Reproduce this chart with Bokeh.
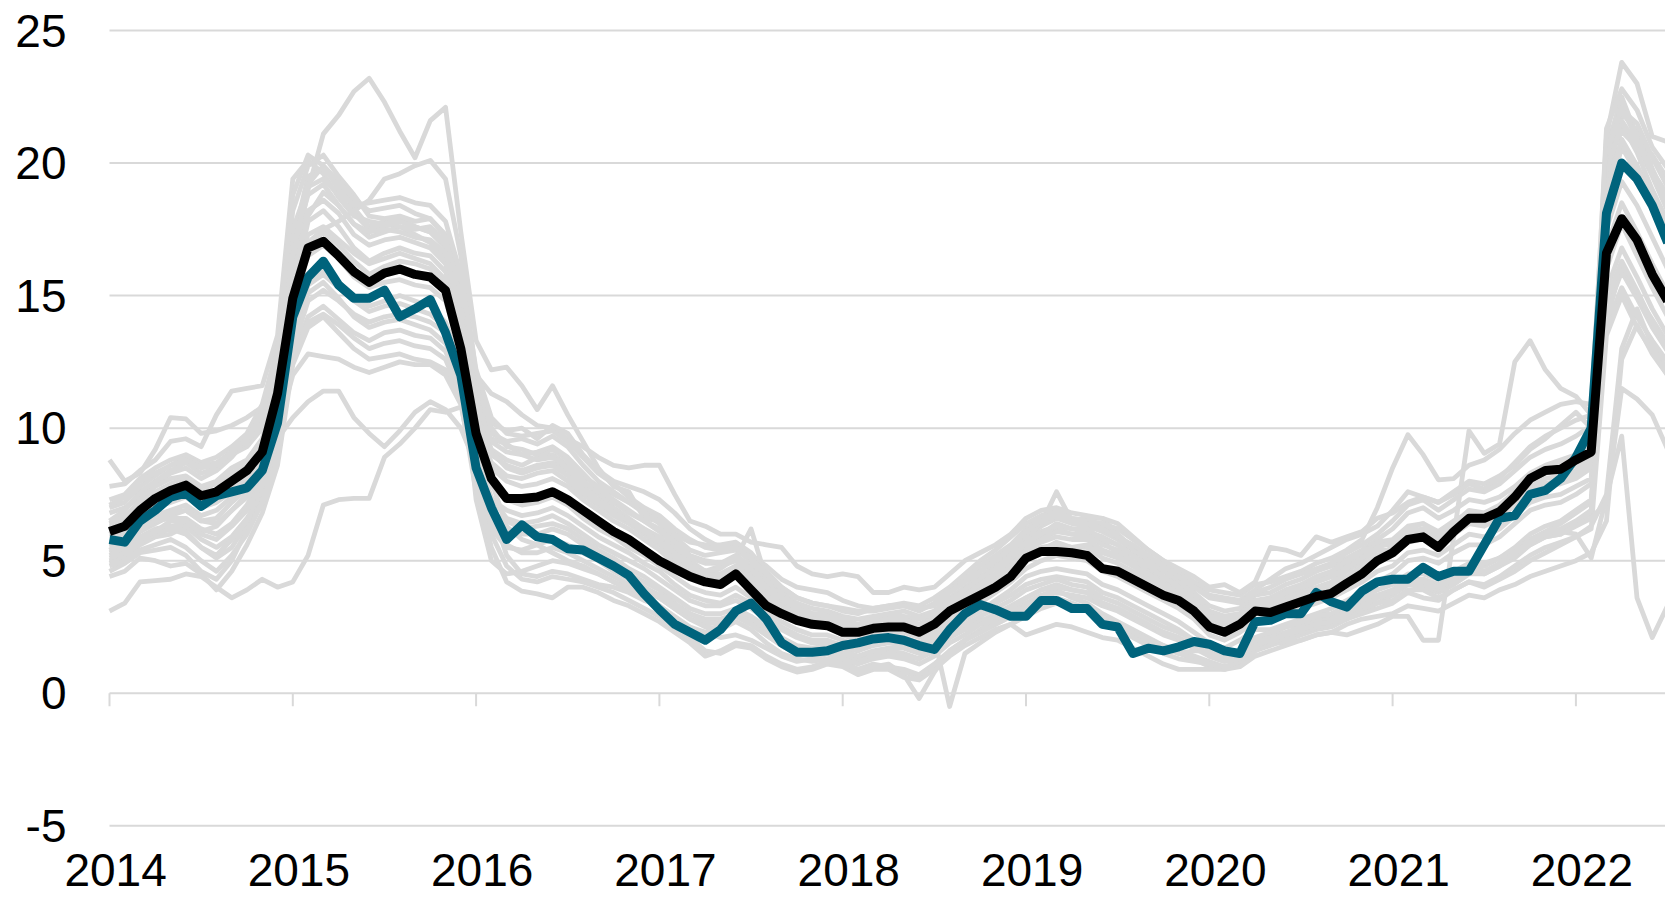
from bokeh.plotting import figure
from bokeh.models import Range1d
from bokeh.core.properties import value
from bokeh.embed import file_html
from bokeh.resources import INLINE

# ---------------- data ----------------
start_year = 2014
n_months = 103  # Jan 2014 .. Jul 2022
months = [start_year + i / 12 for i in range(n_months)]

year_ticks = [2014, 2015, 2016, 2017, 2018, 2019, 2020, 2021, 2022]
year_labels = ["2014", "2015", "2016", "2017", "2018", "2019", "2020", "2021", "2022"]
y_ticks = [-5, 0, 5, 10, 15, 20, 25]
y_labels = ["-5", "0", "5", "10", "15", "20", "25"]

black = [6.1, 6.3, 6.9, 7.35, 7.65, 7.85, 7.45, 7.6, 8.0, 8.4, 9.1, 11.3,
         14.9, 16.8, 17.05, 16.5, 15.9, 15.5, 15.85, 16.0, 15.8, 15.7, 15.2, 13.0,
         9.8, 8.1, 7.35, 7.35, 7.4, 7.6, 7.3, 6.9, 6.5, 6.1, 5.8, 5.4,
         5.0, 4.7, 4.4, 4.2, 4.1, 4.5, 3.9, 3.3, 3.0, 2.75, 2.6, 2.55,
         2.3, 2.3, 2.45, 2.5, 2.5, 2.3, 2.6, 3.1, 3.4, 3.7, 4.0, 4.4,
         5.1, 5.35, 5.35, 5.3, 5.2, 4.7, 4.6, 4.3, 4.0, 3.7, 3.5, 3.1,
         2.5, 2.3, 2.6, 3.1, 3.05, 3.25, 3.45, 3.65, 3.77, 4.15, 4.5, 5.0,
         5.3, 5.8, 5.9, 5.5, 6.1, 6.6, 6.6, 6.85, 7.4, 8.1, 8.4, 8.45,
         8.8, 9.1, 16.6, 17.9, 17.1, 15.8, 14.8]

teal = [5.8, 5.7, 6.5, 6.9, 7.4, 7.55, 7.05, 7.45, 7.6, 7.75, 8.4, 10.2,
        14.2, 15.7, 16.3, 15.4, 14.9, 14.9, 15.2, 14.2, 14.5, 14.85, 13.6, 12.0,
        8.5, 7.0, 5.8, 6.35, 5.9, 5.8, 5.45, 5.4, 5.1, 4.8, 4.45, 3.75,
        3.15, 2.6, 2.3, 2.0, 2.4, 3.1, 3.4, 2.8, 1.9, 1.55, 1.55, 1.6,
        1.8, 1.9, 2.05, 2.1, 2.0, 1.8, 1.65, 2.4, 3.0, 3.35, 3.15, 2.9,
        2.9, 3.5, 3.5, 3.2, 3.2, 2.6, 2.5, 1.5, 1.7, 1.6, 1.75, 1.95,
        1.85, 1.6, 1.5, 2.7, 2.75, 3.0, 3.0, 3.8, 3.45, 3.25, 3.85, 4.2,
        4.3, 4.3, 4.75, 4.4, 4.6, 4.6, 5.6, 6.6, 6.7, 7.5, 7.65, 8.1,
        8.9, 10.0, 18.1, 20.0, 19.4, 18.4, 17.0]

g01 = [6.8, 7.0, 7.4, 7.9, 8.3, 8.5, 8.1, 8.4, 8.9, 9.6, 10.5, 12.0,
       16.0, 19.0, 21.1, 21.8, 22.7, 23.2, 22.3, 21.2, 20.2, 21.6, 22.1, 17.4,
       13.3, 12.2, 12.3, 11.6, 10.7, 11.6, 10.5, 9.5, 8.5, 7.8, 7.6, 6.6,
       6.5, 5.6, 5.0, 4.6, 4.8, 5.0, 4.5, 3.9, 3.5, 3.1, 2.8, 2.9,
       2.6, 2.4, 2.5, 2.7, 2.6, 2.5, 2.9, 3.3, 3.8, 4.2, 4.5, 5.0,
       5.6, 5.9, 6.2, 6.0, 5.9, 5.7, 5.3, 4.9, 4.6, 4.3, 3.9, 3.5,
       2.9, 2.7, 2.9, 3.3, 3.5, 3.7, 3.9, 4.2, 4.4, 4.8, 5.2, 5.8,
       5.6, 6.1, 6.2, 6.0, 6.4, 6.8, 6.7, 7.0, 7.5, 8.0, 8.3, 8.5,
       8.7, 9.0, 19.0, 21.9, 21.2, 19.8, 18.5]
g02 = [8.8, 8.0, 8.3, 9.2, 10.4, 10.35, 9.8, 9.9, 10.1, 10.4, 10.8, 11.6,
       15.5, 17.0, 17.5, 17.8, 18.2, 18.6, 19.4, 19.6, 19.9, 20.1, 19.4, 16.5,
       12.0, 10.2, 9.9, 10.0, 9.6, 10.1, 9.8, 9.0, 8.4, 8.0, 7.8, 7.6,
       7.3, 6.8, 6.2, 5.8, 5.5, 5.6, 5.2, 4.8, 4.3, 4.0, 3.9, 3.8,
       3.5, 3.3, 3.2, 3.3, 3.4, 3.3, 3.6, 4.0, 4.5, 5.0, 5.4, 5.9,
       6.4, 6.7, 6.9, 6.6, 6.5, 6.3, 6.0, 5.5, 5.1, 4.8, 4.5, 4.1,
       3.7, 3.6, 3.5, 3.9, 4.3, 4.7, 4.9, 5.2, 5.5, 5.8, 6.0, 6.3,
       6.9, 7.6, 7.4, 7.2, 7.6, 8.0, 7.9, 8.2, 8.6, 9.2, 9.6, 10.1,
       10.6, 10.0, 20.5, 22.5, 21.0, 20.3, 19.4]
g03 = [3.1, 3.4, 4.2, 4.25, 4.3, 4.5, 4.4, 4.0, 3.6, 3.9, 4.3, 4.0,
       4.2, 5.2, 7.1, 7.3, 7.35, 7.35, 8.9, 9.4, 10.0, 10.7, 10.6, 10.8,
       10.9, 8.0, 6.3, 5.8, 5.6, 5.3, 5.0, 4.8, 4.5, 4.2, 3.9, 3.6,
       3.3, 2.9, 2.5, 2.3, 2.1, 2.2, 2.0, 1.7, 1.4, 1.2, 1.3, 1.5,
       1.2, 0.9, 1.1, 1.0, 0.8, 0.6, 1.0, 1.5, 2.0, 2.4, 2.8, 3.1,
       3.4, 3.7, 3.9, 3.6, 3.4, 3.0, 2.7, 2.4, 2.1, 1.8, 1.6, 1.4,
       1.2, 1.0, 1.1, 1.6, 1.9, 2.1, 2.3, 2.5, 2.6, 2.8, 3.0, 3.2,
       3.4, 3.8, 3.6, 3.5, 3.9, 4.2, 4.0, 4.3, 4.6, 5.0, 5.3, 5.6,
       5.9, 6.3, 7.5, 13.0, 14.5, 13.1, 12.2]
g04 = [5.2, 5.4, 5.9, 6.0, 6.3, 6.4, 6.1, 6.3, 6.9, 7.5, 8.4, 9.6,
       10.4, 11.0, 11.4, 11.4, 10.4, 9.8, 9.3, 9.9, 10.6, 11.0, 10.7, 10.0,
       8.6, 7.0, 5.2, 4.5, 4.4, 4.6, 4.5, 4.3, 4.1, 4.0, 3.8, 3.5,
       3.3, 2.8, 2.4, 2.3, 2.6, 2.9, 2.9, 2.5, 2.0, 1.6, 1.4, 1.6,
       1.6, 1.3, 1.5, 1.7, 1.8, 1.6, 1.5, 2.1, 2.5, 2.8, 2.7, 2.9,
       3.1, 3.4, 3.6, 3.4, 3.2, 2.8, 2.6, 2.2, 1.9, 1.7, 1.5, 1.6,
       1.6, 1.4, 1.5, 2.0, 2.2, 2.5, 2.6, 2.8, 2.9, 3.2, 3.5, 3.7,
       3.9, 4.3, 4.3, 4.1, 4.3, 4.6, 4.8, 5.1, 5.4, 5.8, 6.1, 6.4,
       6.8, 7.2, 13.8, 15.3, 14.2, 13.3, 12.5]
g05 = [6.5, 6.9, 7.6, 8.0, 8.4, 8.7, 8.3, 8.5, 9.0, 9.3, 10.0, 12.5,
       17.0, 19.5, 19.8, 19.2, 18.3, 17.6, 17.8, 17.9, 17.6, 17.4, 16.8, 14.6,
       10.8, 9.2, 8.8, 8.6, 8.9, 9.0, 8.6, 8.0, 7.5, 7.0, 6.6, 6.2,
       5.9, 5.4, 4.9, 4.6, 4.5, 4.8, 4.4, 3.8, 3.4, 3.0, 2.8, 2.7,
       2.5, 2.3, 2.5, 2.6, 2.7, 2.5, 2.7, 3.2, 3.6, 4.0, 4.4, 4.9,
       5.5, 5.8, 6.1, 6.0, 6.0, 5.6, 5.4, 5.0, 4.6, 4.2, 3.9, 3.4,
       2.8, 2.6, 2.8, 3.3, 3.4, 3.6, 3.8, 4.0, 4.2, 4.6, 5.0, 5.4,
       5.4, 5.9, 6.0, 5.7, 6.1, 6.5, 6.4, 6.7, 7.1, 7.6, 7.9, 8.0,
       8.3, 8.7, 19.7, 21.5, 20.4, 19.0, 17.8]
g06 = [5.9, 6.0, 6.6, 7.0, 7.2, 7.4, 7.0, 7.2, 7.6, 8.0, 8.9, 10.8,
       15.2, 17.8, 18.2, 17.6, 16.8, 16.3, 16.6, 16.8, 16.6, 16.5, 15.9, 14.0,
       10.2, 8.7, 8.2, 8.1, 8.3, 8.4, 8.0, 7.5, 7.1, 6.7, 6.4, 6.0,
       5.6, 5.1, 4.7, 4.4, 4.3, 4.6, 4.2, 3.6, 3.2, 2.9, 2.7, 2.6,
       2.3, 2.2, 2.4, 2.5, 2.5, 2.3, 2.6, 3.0, 3.4, 3.8, 4.2, 4.7,
       5.3, 5.5, 5.6, 5.5, 5.5, 5.1, 4.9, 4.6, 4.3, 4.0, 3.7, 3.2,
       2.6, 2.4, 2.7, 3.2, 3.2, 3.4, 3.6, 3.8, 4.0, 4.3, 4.7, 5.2,
       5.5, 6.0, 6.2, 5.9, 6.3, 6.8, 6.7, 7.0, 7.6, 8.1, 8.3, 8.4,
       8.6, 9.0, 18.4, 20.6, 19.6, 18.3, 16.9]
g07 = [4.9, 5.1, 5.6, 5.9, 6.0, 6.3, 5.8, 5.5, 5.9, 6.6, 7.5, 9.2,
       13.2, 15.1, 15.5, 14.9, 14.2, 13.8, 14.0, 14.1, 13.9, 13.7, 13.2, 12.0,
       9.0, 7.4, 6.6, 6.4, 6.5, 6.7, 6.4, 6.0, 5.6, 5.3, 5.0, 4.7,
       4.3, 3.9, 3.5, 3.3, 3.3, 3.5, 3.2, 2.8, 2.4, 2.1, 1.9, 1.9,
       1.7, 1.6, 1.8, 1.9, 1.9, 1.7, 1.9, 2.4, 2.8, 3.1, 3.5, 3.9,
       4.4, 4.6, 4.7, 4.6, 4.5, 4.1, 3.9, 3.6, 3.3, 3.0, 2.7, 2.3,
       1.9, 1.7, 2.0, 2.4, 2.4, 2.6, 2.8, 3.0, 3.2, 3.5, 3.8, 4.2,
       4.5, 5.0, 5.1, 4.9, 5.3, 5.6, 5.6, 5.9, 6.4, 6.9, 7.1, 7.2,
       7.5, 7.9, 16.0, 17.7, 16.5, 15.3, 14.2]
g08 = [7.3, 7.5, 8.1, 8.5, 8.8, 9.0, 8.7, 8.9, 9.3, 9.8, 10.9, 13.0,
       18.2, 19.9, 20.3, 19.5, 18.8, 18.0, 17.9, 18.0, 17.8, 17.9, 17.3, 15.2,
       11.4, 9.8, 9.5, 9.6, 9.4, 9.7, 9.3, 8.6, 8.0, 7.6, 7.2, 6.8,
       6.4, 5.9, 5.4, 5.2, 5.3, 5.4, 5.0, 4.3, 3.8, 3.4, 3.2, 3.1,
       2.9, 2.8, 2.9, 3.0, 3.1, 2.9, 3.1, 3.6, 4.0, 4.4, 4.8, 5.3,
       5.9, 6.3, 6.6, 6.4, 6.3, 6.1, 5.8, 5.4, 5.0, 4.6, 4.3, 3.8,
       3.3, 3.1, 3.2, 3.7, 3.8, 4.1, 4.3, 4.6, 4.8, 5.1, 5.4, 5.8,
       6.2, 6.8, 7.0, 6.6, 6.9, 7.3, 7.2, 7.4, 7.8, 8.3, 8.6, 8.8,
       9.0, 9.4, 20.8, 22.0, 21.5, 20.2, 19.1]
g09 = [5.5, 5.6, 6.1, 6.4, 6.7, 6.9, 6.5, 6.6, 7.2, 7.7, 8.6, 10.4,
       14.5, 16.8, 17.4, 16.9, 16.3, 15.8, 16.1, 16.3, 16.2, 16.0, 15.5, 12.8,
       7.3, 5.0, 4.5, 4.6, 4.8, 5.0, 4.9, 4.7, 4.5, 4.2, 4.0, 3.8,
       3.6, 3.2, 2.8, 2.5, 2.4, 2.7, 2.4, 1.9, 1.5, 1.3, 1.2, 1.3,
       1.1, 0.8, 1.0, 1.1, 0.7, -0.2, 0.8, 1.6, 2.0, 2.3, 2.6, 2.9,
       3.3, 3.6, 3.8, 3.7, 3.6, 3.3, 3.1, 2.8, 2.5, 2.2, 2.0, 1.7,
       1.4, 1.2, 1.3, 1.8, 2.0, 2.2, 2.4, 2.6, 2.8, 3.0, 3.3, 3.6,
       3.8, 4.2, 4.3, 4.1, 4.4, 4.8, 4.8, 5.1, 5.5, 6.0, 6.3, 6.5,
       6.9, 7.3, 15.2, 16.8, 15.7, 14.5, 13.5]
g10 = [4.6, 4.9, 5.3, 5.4, 5.5, 5.2, 4.6, 4.3, 5.0, 6.2, 7.4, 9.0,
       12.8, 14.2, 14.6, 14.1, 13.6, 13.3, 13.6, 13.7, 13.5, 13.4, 12.9, 11.6,
       8.3, 6.9, 6.2, 6.0, 6.0, 6.2, 6.0, 5.6, 5.2, 4.9, 4.5, 4.2,
       3.9, 3.4, 3.0, 2.8, 2.8, 3.0, 2.7, 2.3, 1.9, 1.7, 1.6, 1.7,
       1.5, 1.3, 1.4, 1.6, 1.5, 1.3, 2.1, -0.5, 1.5, 1.9, 2.3, 2.6,
       2.9, 3.2, 3.4, 3.3, 3.1, 2.8, 2.6, 2.3, 2.0, 1.8, 1.5, 1.3,
       1.0, 0.9, 1.1, 1.6, 1.8, 2.0, 2.2, 2.4, 2.5, 2.8, 3.1, 3.4,
       3.7, 4.1, 4.0, 3.8, 4.1, 4.5, 4.5, 4.8, 5.1, 5.6, 5.9, 6.0,
       6.4, 6.8, 14.4, 15.9, 14.9, 13.8, 12.9]
g11 = [6.2, 6.6, 7.3, 7.8, 8.1, 8.2, 7.8, 8.0, 8.5, 8.8, 9.6, 11.8,
       16.8, 18.8, 19.2, 18.4, 17.7, 17.2, 17.4, 17.6, 17.3, 17.0, 16.4, 14.2,
       10.4, 9.0, 8.6, 8.4, 8.6, 8.7, 8.4, 7.8, 7.3, 6.9, 6.5, 6.2,
       5.8, 5.2, 4.8, 4.6, 4.7, 5.1, 6.2, 4.3, 3.6, 3.2, 2.9, 2.8,
       2.5, 2.3, 2.6, 2.7, 2.8, 2.6, 2.9, 3.4, 3.9, 4.6, 5.0, 5.4,
       6.0, 6.4, 7.6, 6.5, 6.6, 6.6, 6.0, 5.4, 5.0, 4.6, 4.2, 3.7,
       3.1, 2.9, 3.0, 3.5, 3.6, 3.8, 4.0, 4.3, 4.5, 4.9, 5.3, 5.7,
       5.8, 6.3, 6.4, 6.1, 6.5, 6.8, 6.7, 7.0, 7.4, 7.8, 8.1, 8.2,
       8.4, 8.8, 19.9, 21.6, 20.7, 19.5, 18.2]
g12 = [5.0, 5.2, 5.7, 6.0, 6.2, 6.0, 5.5, 5.1, 5.5, 6.4, 7.7, 9.8,
       13.8, 15.6, 16.0, 15.5, 15.0, 14.6, 14.8, 15.0, 14.8, 14.6, 14.0, 12.4,
       8.8, 7.3, 6.9, 6.7, 6.8, 7.0, 6.7, 6.3, 5.9, 5.6, 5.3, 4.9,
       4.6, 4.1, 3.7, 3.5, 3.4, 3.7, 3.4, 2.9, 2.5, 2.2, 2.0, 2.0,
       1.8, 1.6, 1.9, 2.0, 2.0, 1.8, 2.0, 2.5, 2.8, 3.1, 3.4, 3.7,
       4.1, 4.3, 4.4, 4.3, 4.2, 3.8, 3.6, 3.3, 3.0, 2.7, 2.4, 2.0,
       1.6, 1.4, 1.6, 1.8, 1.9, 1.9, 2.0, 2.2, 2.3, 2.2, 2.4, 2.6,
       2.9, 2.9, 2.0, 2.0, 5.9, 9.9, 9.05, 9.4, 12.5, 13.3, 12.2, 11.5,
       11.2, 10.5, 14.0, 16.2, 15.0, 14.1, 13.2]
g13 = [7.8, 7.9, 8.4, 8.8, 9.5, 9.6, 9.3, 10.5, 11.4, 11.5, 11.6, 13.5,
       19.4, 20.1, 19.6, 18.7, 18.0, 17.8, 17.7, 17.6, 17.5, 17.6, 17.0, 15.5,
       11.8, 10.0, 9.3, 9.2, 9.0, 9.2, 8.8, 8.2, 7.8, 7.5, 7.2, 6.9,
       6.6, 6.0, 5.7, 5.6, 5.6, 5.7, 5.3, 4.6, 4.0, 3.6, 3.4, 3.3,
       3.1, 3.0, 3.2, 3.3, 3.3, 3.1, 3.4, 3.9, 4.3, 4.8, 5.2, 5.6,
       6.2, 6.6, 6.8, 6.6, 6.5, 6.4, 6.2, 5.8, 5.4, 5.0, 4.6, 4.2,
       3.9, 3.8, 3.7, 4.1, 4.2, 4.4, 4.6, 4.9, 5.1, 5.4, 5.8, 7.0,
       8.5, 9.75, 9.0, 8.05, 8.1, 8.6, 8.8, 9.2, 9.8, 10.3, 10.6, 10.9,
       11.0, 10.9, 20.0, 21.2, 20.6, 19.7, 18.8]
g14 = [5.3, 5.5, 5.9, 6.2, 6.3, 6.1, 5.5, 5.2, 5.8, 6.5, 7.8, 9.5,
       13.0, 14.8, 15.2, 14.8, 14.3, 14.0, 14.2, 14.3, 14.2, 14.0, 13.6, 11.9,
       8.2, 6.8, 6.5, 6.2, 6.3, 6.4, 6.2, 5.8, 5.4, 5.1, 4.7, 4.4,
       4.0, 3.6, 3.2, 3.0, 3.0, 3.2, 2.9, 2.5, 2.1, 1.8, 1.7, 1.8,
       1.6, 1.4, 1.6, 1.7, 1.7, 1.5, 1.8, 2.3, 2.6, 2.9, 3.2, 3.5,
       3.9, 4.1, 4.3, 4.1, 4.0, 3.6, 3.4, 3.1, 2.8, 2.5, 2.3, 2.0,
       1.6, 1.5, 1.6, 2.1, 2.3, 2.5, 2.7, 2.9, 3.0, 3.3, 3.6, 3.9,
       4.1, 4.5, 4.5, 4.3, 4.6, 4.9, 4.9, 5.1, 5.4, 5.8, 6.0, 6.1,
       6.0, 5.1, 7.4, 9.7, 3.6, 2.1, 3.3]
g15 = [4.4, 4.6, 5.1, 5.0, 4.8, 4.9, 4.5, 3.9, 4.6, 5.6, 6.8, 8.6,
       12.4, 13.8, 14.2, 13.6, 13.0, 12.6, 12.7, 12.8, 12.6, 12.5, 12.2, 11.0,
       7.6, 6.0, 4.8, 4.3, 4.2, 4.4, 4.3, 4.2, 4.0, 3.8, 3.5, 3.2,
       2.9, 2.5, 2.1, 1.6, 1.5, 1.8, 1.7, 1.3, 1.0, 0.8, 0.9, 1.1,
       1.0, 0.7, 0.9, 0.9, 0.6, 0.5, 0.9, 1.4, 1.8, 2.1, 2.4, 2.6,
       2.2, 2.4, 2.6, 2.5, 2.3, 2.1, 2.0, 1.7, 1.4, 1.1, 0.9, 0.9,
       0.9, 0.9, 1.0, 1.4, 1.6, 1.8, 2.0, 2.2, 2.3, 2.6, 2.8, 2.9,
       3.0, 3.3, 3.2, 3.1, 3.4, 3.7, 3.6, 3.9, 4.1, 4.4, 4.6, 4.8,
       5.0, 5.3, 6.5, 12.6, 13.9, 12.8, 12.0]
g16 = [7.0, 7.2, 7.8, 8.2, 8.6, 8.9, 8.6, 8.7, 9.1, 9.5, 10.2, 12.2,
       17.5, 19.1, 19.4, 18.8, 18.1, 17.5, 17.6, 17.8, 17.6, 17.4, 16.9, 15.6,
       12.0, 11.3, 11.0, 10.5, 10.1, 10.0, 9.6, 9.3, 8.9, 8.6, 8.5, 8.6,
       8.6, 7.5, 6.5, 6.3, 6.0, 6.0, 5.7, 5.6, 5.5, 4.8, 4.5, 4.4,
       4.5, 4.4, 3.8, 3.8, 4.0, 3.9, 4.0, 4.5, 5.0, 5.3, 5.6, 6.0,
       6.6, 6.9, 7.0, 6.8, 6.7, 6.6, 6.4, 5.9, 5.4, 5.0, 4.7, 4.4,
       4.0, 4.1, 3.8, 4.2, 5.5, 5.4, 5.2, 5.9, 5.7, 5.9, 6.1, 6.6,
       6.8, 7.2, 7.4, 7.2, 7.5, 7.9, 7.7, 8.1, 8.7, 9.3, 9.7, 10.0,
       10.3, 10.5, 21.0, 23.8, 23.0, 21.0, 20.8]
g17 = [5.7, 5.8, 6.3, 6.7, 6.9, 7.1, 6.7, 6.9, 7.4, 7.8, 8.8, 10.9,
       15.8, 18.2, 18.6, 18.1, 17.3, 16.9, 17.1, 17.2, 17.0, 16.8, 16.2, 13.5,
       9.5, 8.5, 8.0, 7.8, 7.9, 8.1, 7.8, 7.3, 6.9, 6.5, 6.2, 5.8,
       5.4, 4.9, 4.5, 4.3, 4.2, 4.4, 4.0, 3.5, 3.1, 2.8, 2.6, 2.5,
       2.2, 2.0, 2.2, 2.3, 2.3, 2.1, 2.3, 2.8, 3.2, 3.6, 4.0, 4.5,
       5.0, 5.4, 5.7, 5.5, 5.6, 5.3, 5.1, 4.8, 4.4, 4.1, 3.8, 3.3,
       2.7, 2.5, 2.7, 3.1, 3.1, 3.3, 3.5, 3.7, 3.9, 4.2, 4.6, 5.0,
       5.2, 5.7, 5.8, 5.5, 6.0, 6.4, 6.4, 6.7, 7.2, 7.7, 7.9, 8.0,
       8.2, 8.5, 17.5, 19.3, 18.4, 17.2, 16.0]
g18 = [6.0, 6.3, 6.8, 7.1, 7.3, 7.5, 7.2, 7.4, 7.8, 8.1, 9.2, 11.2,
       15.5, 17.3, 17.6, 17.1, 16.6, 16.2, 16.4, 16.6, 16.4, 16.2, 15.6, 13.7,
       10.0, 9.6, 9.4, 9.0, 8.8, 8.9, 8.5, 8.0, 7.6, 7.2, 6.8, 6.5,
       6.1, 5.6, 5.1, 4.9, 4.9, 5.2, 4.8, 4.1, 3.7, 3.3, 3.0, 3.0,
       2.8, 2.6, 2.8, 2.9, 2.9, 2.8, 3.0, 3.5, 3.9, 4.3, 4.7, 5.2,
       5.8, 6.1, 6.3, 6.2, 6.1, 5.9, 5.6, 5.2, 4.8, 4.4, 4.1, 3.6,
       3.0, 2.9, 3.0, 3.4, 3.6, 3.9, 4.1, 4.4, 4.6, 5.0, 5.3, 5.6,
       5.6, 6.0, 6.1, 5.8, 6.2, 6.5, 6.4, 6.7, 7.1, 7.5, 7.8, 7.9,
       8.1, 8.5, 19.2, 20.8, 19.9, 18.8, 17.6]
g19 = [4.8, 5.0, 5.4, 5.6, 5.8, 5.5, 5.0, 4.6, 5.2, 6.0, 7.2, 8.8,
       12.6, 14.0, 14.3, 13.9, 13.4, 13.0, 13.2, 13.3, 13.1, 13.0, 12.6, 11.2,
       7.8, 5.5, 4.2, 3.85, 3.75, 3.6, 4.0, 4.0, 3.8, 3.5, 3.3, 3.0,
       2.7, 2.3, 1.9, 1.4, 1.6, 1.9, 1.8, 1.4, 1.1, 0.9, 1.0, 1.2,
       1.1, 0.9, 1.0, 1.0, 0.9, 0.7, 1.1, 1.6, 2.0, 2.3, 2.6, 2.9,
       3.1, 3.3, 3.5, 3.3, 3.1, 2.7, 2.5, 2.1, 1.8, 1.5, 1.3, 1.2,
       1.1, 1.0, 1.2, 1.7, 1.9, 2.1, 2.3, 2.5, 2.6, 2.9, 3.2, 3.4,
       3.5, 3.9, 3.9, 3.6, 3.9, 4.2, 4.1, 4.4, 4.8, 5.2, 5.5, 5.7,
       5.9, 6.2, 13.5, 15.0, 13.8, 12.9, 12.0]
g20 = [5.6, 5.8, 6.4, 6.5, 6.6, 6.6, 6.2, 6.0, 6.4, 7.1, 8.1, 9.9,
       12.0, 12.8, 12.7, 12.6, 12.3, 12.1, 12.3, 12.5, 12.4, 12.4, 12.0, 10.9,
       8.0, 6.4, 5.6, 5.3, 5.3, 5.5, 5.3, 5.0, 4.7, 4.4, 4.1, 3.9,
       3.6, 3.2, 2.8, 2.6, 2.7, 2.9, 2.6, 2.2, 1.8, 1.5, 1.5, 1.6,
       1.4, 1.2, 1.4, 1.5, 1.4, 1.3, 1.6, 2.1, 2.4, 2.7, 3.0, 3.3,
       3.6, 3.9, 4.1, 3.9, 3.8, 3.4, 3.2, 2.9, 2.6, 2.3, 2.1, 1.8,
       1.5, 1.3, 1.4, 1.9, 2.1, 2.3, 2.5, 2.7, 2.8, 3.1, 3.4, 3.7,
       3.8, 4.2, 4.1, 3.9, 4.3, 4.6, 4.5, 4.8, 5.2, 5.6, 5.9, 6.0,
       6.3, 6.6, 7.2, 11.5, 11.1, 10.5, 9.2]
g21 = [6.4, 6.7, 7.2, 7.6, 7.9, 8.1, 7.7, 7.9, 8.3, 8.7, 9.4, 11.5,
       16.5, 19.2, 19.9, 19.3, 18.6, 18.2, 18.3, 18.4, 18.1, 17.9, 17.2, 14.8,
       11.0, 9.5, 9.1, 9.0, 9.1, 9.3, 8.9, 8.3, 7.7, 7.3, 6.9, 6.5,
       6.2, 5.7, 5.2, 5.0, 4.9, 5.1, 4.7, 4.0, 3.6, 3.2, 3.0, 2.9,
       2.7, 2.5, 2.7, 2.8, 2.8, 2.6, 2.8, 3.3, 3.7, 4.1, 4.5, 5.0,
       5.7, 6.0, 6.4, 6.2, 6.2, 5.8, 5.6, 5.2, 4.8, 4.4, 4.0, 3.5,
       2.9, 2.8, 2.9, 3.4, 3.5, 3.8, 4.0, 4.2, 4.4, 4.7, 5.1, 5.5,
       5.7, 6.2, 6.4, 6.0, 6.4, 6.9, 6.8, 7.1, 7.6, 8.2, 8.5, 8.7,
       9.0, 9.5, 20.3, 22.1, 20.9, 19.6, 18.4]
g22 = [6.3, 6.4, 6.9, 7.3, 7.5, 7.7, 7.3, 7.4, 7.9, 8.3, 9.0, 11.0,
       15.6, 18.0, 18.9, 18.4, 17.7, 17.4, 17.5, 17.4, 17.2, 17.1, 16.6, 14.3,
       10.5, 9.1, 8.5, 8.3, 8.5, 8.6, 8.2, 7.7, 7.2, 6.8, 6.5, 6.1,
       5.7, 5.3, 4.8, 4.5, 4.4, 4.7, 4.3, 3.7, 3.3, 2.9, 2.7, 2.7,
       2.4, 2.2, 2.4, 2.5, 2.6, 2.4, 2.7, 3.1, 3.5, 3.9, 4.3, 4.8,
       5.4, 5.7, 5.9, 5.8, 5.8, 5.4, 5.2, 4.8, 4.5, 4.1, 3.8, 3.3,
       2.7, 2.5, 2.8, 3.2, 3.3, 3.5, 3.7, 3.9, 4.1, 4.4, 4.8, 5.2,
       5.3, 5.8, 5.9, 5.6, 6.0, 6.4, 6.3, 6.6, 7.1, 7.6, 7.9, 8.0,
       8.2, 8.6, 18.9, 20.9, 19.9, 18.6, 17.3]
g23 = [5.4, 5.7, 6.2, 6.5, 6.8, 6.9, 6.5, 6.4, 6.9, 7.4, 8.3, 10.2,
       14.6, 16.5, 16.9, 16.4, 15.7, 15.3, 15.5, 15.6, 15.4, 15.3, 14.8, 12.9,
       9.2, 7.8, 7.3, 7.1, 7.2, 7.4, 7.1, 6.6, 6.2, 5.9, 5.5, 5.2,
       4.8, 4.4, 4.0, 3.8, 3.7, 4.0, 3.6, 3.1, 2.7, 2.4, 2.2, 2.2,
       2.0, 1.8, 2.0, 2.1, 2.1, 1.9, 2.2, 2.6, 3.0, 3.4, 3.8, 4.2,
       4.7, 5.0, 5.2, 5.1, 5.0, 4.6, 4.4, 4.1, 3.8, 3.5, 3.2, 2.8,
       2.2, 2.0, 2.3, 2.7, 2.8, 3.0, 3.2, 3.4, 3.6, 3.9, 4.2, 4.6,
       4.8, 5.3, 5.4, 5.2, 5.6, 6.0, 5.9, 6.2, 6.7, 7.2, 7.4, 7.5,
       7.8, 8.1, 16.8, 18.5, 17.4, 16.2, 15.1]
g24 = [7.1, 7.4, 8.0, 8.3, 8.6, 8.8, 8.5, 8.6, 9.1, 9.6, 10.6, 12.8,
       18.8, 20.3, 19.9, 19.0, 18.4, 18.5, 18.6, 18.7, 18.5, 18.4, 17.8, 15.8,
       12.2, 10.4, 9.8, 9.7, 9.8, 9.9, 9.5, 8.9, 8.3, 7.9, 7.4, 7.0,
       6.7, 6.2, 5.8, 5.5, 5.4, 5.5, 5.1, 4.5, 4.0, 3.6, 3.4, 3.3,
       3.2, 3.1, 3.1, 3.2, 3.3, 3.2, 3.3, 3.8, 4.2, 4.6, 5.0, 5.5,
       6.1, 6.5, 6.7, 6.5, 6.4, 6.2, 5.9, 5.6, 5.2, 4.8, 4.4, 4.0,
       3.6, 3.5, 3.4, 3.8, 4.0, 4.3, 4.5, 4.7, 4.9, 5.3, 5.6, 6.0,
       6.5, 7.1, 7.3, 6.9, 7.3, 7.7, 7.6, 7.9, 8.4, 8.9, 9.2, 9.4,
       9.7, 10.1, 21.3, 22.8, 22.0, 20.6, 19.8]
g25 = [5.1, 5.3, 5.8, 6.1, 6.5, 6.5, 6.0, 5.8, 6.3, 6.9, 7.9, 9.6,
       13.5, 15.4, 15.8, 15.3, 14.8, 14.4, 14.6, 14.7, 14.5, 14.3, 13.8, 12.1,
       8.5, 6.2, 5.5, 5.4, 5.6, 5.8, 5.6, 5.3, 5.0, 4.6, 4.3, 4.0,
       3.7, 3.3, 3.0, 2.7, 2.6, 2.9, 2.6, 2.2, 1.8, 1.5, 1.4, 1.5,
       1.3, 1.1, 1.3, 1.4, 1.3, 1.1, 1.4, 1.9, 2.2, 2.6, 2.9, 3.2,
       3.6, 3.9, 4.0, 3.9, 3.8, 3.4, 3.2, 2.9, 2.6, 2.3, 2.1, 1.8,
       1.4, 1.2, 1.3, 1.8, 2.0, 2.2, 2.4, 2.6, 2.7, 3.0, 3.3, 3.6,
       3.8, 4.2, 4.2, 4.0, 4.3, 4.7, 4.6, 4.9, 5.3, 5.7, 6.0, 6.2,
       6.5, 6.9, 14.8, 16.3, 15.2, 14.0, 13.0]

grey_series = [g01, g02, g03, g04, g05, g06, g07, g08, g09, g10,
               g11, g12, g13, g14, g15, g16, g17, g18, g19, g20,
               g21, g22, g23, g24, g25]

# ---------------- layout / styles ----------------
GREY = "#d9d9d9"
TEAL = "#00637c"
FONT = "Liberation Sans"
WIDTH, HEIGHT = 1665, 898
PLOT_LEFT_PX, PLOT_TOP_PX = 109, 30      # where 2014 / 25 sit on the page
PX_PER_YEAR = 183.3
PX_PER_UNIT = 26.51
Y_TOP = 25
x_start = start_year - PLOT_LEFT_PX / PX_PER_YEAR
x_end = start_year + (WIDTH - PLOT_LEFT_PX) / PX_PER_YEAR
y_hi = Y_TOP + PLOT_TOP_PX / PX_PER_UNIT
y_lo = Y_TOP - (HEIGHT - PLOT_TOP_PX) / PX_PER_UNIT
label_y = -5 - 44 / PX_PER_UNIT          # vertical centre of the year labels
ylabel_x = start_year - 43 / PX_PER_YEAR  # right edge of the value labels
tick_len = 13 / PX_PER_UNIT              # tick marks hanging under the 0 line

p = figure(width=WIDTH, height=HEIGHT, output_backend="svg", toolbar_location=None,
           x_range=Range1d(x_start, x_end), y_range=Range1d(y_lo, y_hi),
           x_axis_location=None, y_axis_location=None,
           min_border=0, min_border_left=0, min_border_right=0,
           min_border_top=0, min_border_bottom=0)
p.outline_line_color = None
p.background_fill_color = "white"
p.border_fill_color = "white"
p.xgrid.visible = False
p.ygrid.visible = False

# horizontal gridlines from 2014 to the right edge
p.segment(x0=[start_year] * len(y_ticks), y0=y_ticks, x1=[x_end] * len(y_ticks), y1=y_ticks,
          line_color=GREY, line_width=2)
# tick marks hanging under the zero line
p.segment(x0=year_ticks, y0=[0] * len(year_ticks), x1=year_ticks,
          y1=[-tick_len] * len(year_ticks), line_color=GREY, line_width=2)

for g in grey_series:
    p.line(months, g, line_color=GREY, line_width=4.8, line_join="round")
p.line(months, teal, line_color=TEAL, line_width=9, line_join="round")
p.line(months, black, line_color="black", line_width=9, line_join="round")

# value labels
p.text(x=[ylabel_x] * len(y_ticks), y=y_ticks, text=y_labels,
       text_font=value(FONT), text_font_size="46px", text_align="right",
       text_baseline="middle", text_color="black")
# year labels (centred just right of each year tick)
p.text(x=[y + 0.033 for y in year_ticks], y=[label_y] * len(year_ticks), text=year_labels,
       text_font=value(FONT), text_font_size="46px", text_align="center",
       text_baseline="middle", text_color="black")

open("out.html", "w").write(file_html(p, INLINE))
